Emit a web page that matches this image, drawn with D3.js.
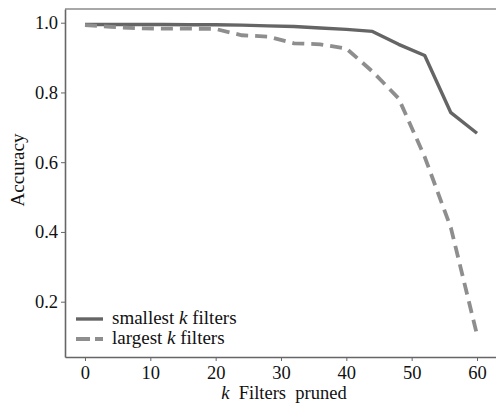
<!DOCTYPE html>
<html>
<head>
<meta charset="utf-8">
<script src="https://cdn.jsdelivr.net/npm/d3@7/dist/d3.min.js"></script>
<style>
  html, body { margin: 0; padding: 0; background: #fff; }
  svg { display: block; }
  text { font-family: "Liberation Serif", "Times New Roman", serif; fill: #111; }
</style>
</head>
<body>
<svg id="chart" width="496" height="405"></svg>
<script>
// Number of filters pruned (k)
const filtersPruned = [0, 4, 8, 12, 16, 20, 24, 28, 32, 36, 40, 44, 48, 52, 56, 60];
// Accuracy when pruning the smallest k filters
const smallestAcc = [0.995, 0.995, 0.995, 0.995, 0.994, 0.994, 0.993, 0.991, 0.989, 0.985, 0.981, 0.975, 0.938, 0.906, 0.742, 0.683];
// Accuracy when pruning the largest k filters
const largestAcc = [0.993, 0.988, 0.984, 0.983, 0.983, 0.982, 0.964, 0.960, 0.941, 0.938, 0.926, 0.860, 0.783, 0.615, 0.412, 0.105];

const xTicks = [0, 10, 20, 30, 40, 50, 60];
const yTicks = [0.2, 0.4, 0.6, 0.8, 1.0];
const seriesNames = ["smallest", "largest"];

const svg = d3.select("#chart");
const mLeft = 65, mRight = 500, mTop = 9, mBottom = 357;

const x = d3.scaleLinear().domain([-3.06, 63.52]).range([mLeft, mRight]);
const y = d3.scaleLinear().domain([0.0414, 1.0393]).range([mBottom, mTop]);

const FS = "19px";
const TICK_FS = "18.5px";

// frame: light top edge
svg.append("line")
  .attr("x1", mLeft).attr("x2", mRight)
  .attr("y1", mTop).attr("y2", mTop)
  .attr("stroke", "#a8a8a8").attr("stroke-width", 2);

// x axis
const xAxis = svg.append("g")
  .attr("transform", `translate(0,${mBottom})`)
  .attr("font-family", "Liberation Serif")
  .call(d3.axisBottom(x).tickValues(xTicks).tickFormat(d3.format("d")).tickSize(4).tickPadding(5).tickSizeOuter(0));
xAxis.attr("font-family", "Liberation Serif");
xAxis.select(".domain").attr("stroke", "#666").attr("stroke-width", 1.6);
xAxis.selectAll(".tick line").attr("stroke", "#666");
xAxis.selectAll(".tick text").style("font-size", TICK_FS).attr("fill", "#111");

// y axis
const yAxis = svg.append("g")
  .attr("transform", `translate(${mLeft},0)`)
  .call(d3.axisLeft(y).tickValues(yTicks).tickFormat(d3.format(".1f")).tickSize(4).tickPadding(3).tickSizeOuter(0));
yAxis.attr("font-family", "Liberation Serif");
yAxis.select(".domain").attr("stroke", "#666").attr("stroke-width", 1.6);
yAxis.selectAll(".tick line").attr("stroke", "#666");
yAxis.selectAll(".tick text").style("font-size", TICK_FS).attr("fill", "#111");

// series lines
const line = d3.line().x((d, i) => x(filtersPruned[i])).y(d => y(d));
const styles = {
  smallest: { color: "#656565", width: 3.4, dash: null },
  largest: { color: "#8e8e8e", width: 3.8, dash: "12,7" }
};

svg.append("path").datum(smallestAcc)
  .attr("d", line).attr("fill", "none")
  .attr("stroke", styles.smallest.color).attr("stroke-width", styles.smallest.width)
  .attr("stroke-linejoin", "round");

svg.append("path").datum(largestAcc)
  .attr("d", line).attr("fill", "none")
  .attr("stroke", styles.largest.color).attr("stroke-width", styles.largest.width)
  .attr("stroke-dasharray", styles.largest.dash);

// axis titles
const xTitle = svg.append("text")
  .attr("x", 284).attr("y", 399)
  .attr("text-anchor", "middle").style("font-size", "18.5px");
xTitle.append("tspan").attr("font-style", "italic").text("k");
xTitle.append("tspan").text("\u00a0 Filters\u00a0 pruned");

svg.append("text")
  .attr("transform", "translate(24,170) rotate(-90)")
  .attr("text-anchor", "middle").style("font-size", FS)
  .text("Accuracy");

// legend
const legend = svg.append("g");
seriesNames.forEach((name, i) => {
  const ly = 319 + i * 20;
  const s = styles[name];
  legend.append("line")
    .attr("x1", 76).attr("x2", 103).attr("y1", ly).attr("y2", ly)
    .attr("stroke", s.color).attr("stroke-width", s.width)
    .attr("stroke-dasharray", s.dash ? "14,5" : null);
  const t = legend.append("text").attr("x", 112).attr("y", ly + 5).style("font-size", FS);
  t.append("tspan").text(name + " ");
  t.append("tspan").attr("font-style", "italic").text("k");
  t.append("tspan").text(" filters");
});
</script>
</body>
</html>
